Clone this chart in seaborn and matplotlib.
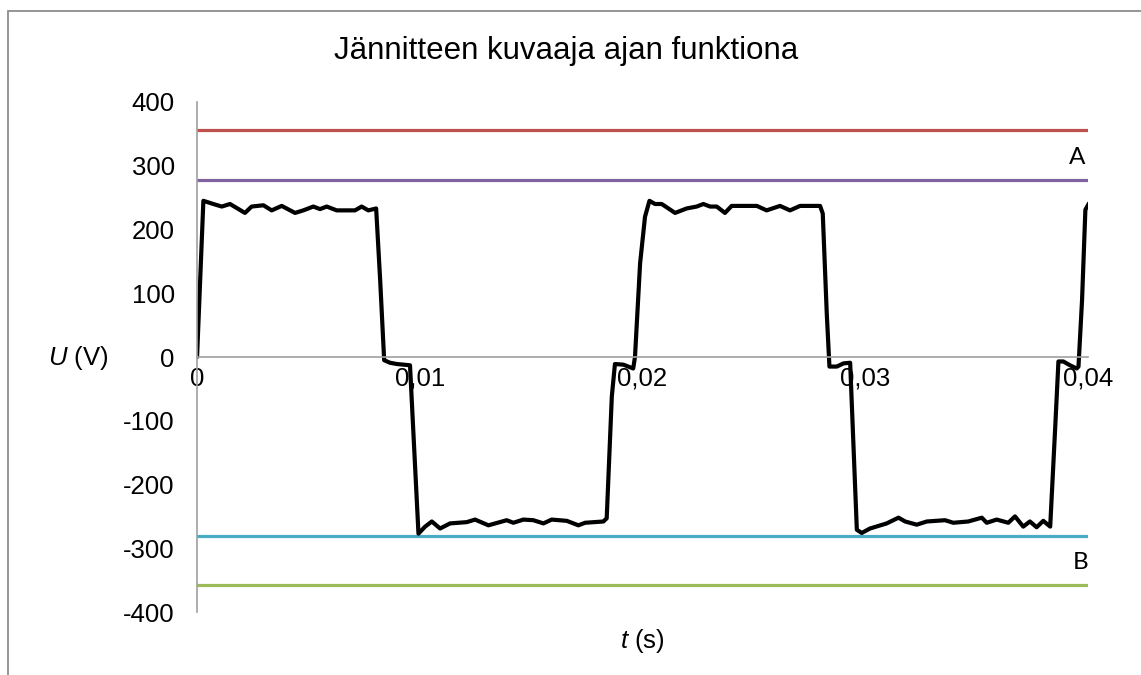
import numpy as np
import pandas as pd
import matplotlib
matplotlib.use("Agg")
import matplotlib.pyplot as plt
import matplotlib.patches as patches
import seaborn as sns

t_s = [0.0, 0.000284, 0.00073, 0.00111, 0.00148, 0.00215, 0.00245, 0.00298, 0.00335,
       0.0038, 0.0044, 0.00477, 0.00522, 0.00552, 0.00582, 0.00627, 0.00709, 0.00739,
       0.00769, 0.00804, 0.00822, 0.0084, 0.00866, 0.00897, 0.00956, 0.00994, 0.01024,
       0.01054, 0.01091, 0.01136, 0.01211, 0.01248, 0.01308, 0.0139, 0.0142, 0.01465,
       0.0151, 0.01555, 0.01592, 0.0166, 0.01712, 0.01742, 0.01824, 0.01839, 0.01862,
       0.01876, 0.01914, 0.01958, 0.01966, 0.01989, 0.02011, 0.02031, 0.02056, 0.02086,
       0.02146, 0.02198, 0.02243, 0.02273, 0.02303, 0.02333, 0.0237, 0.0240, 0.02513,
       0.02557, 0.02617, 0.02662, 0.02707, 0.02797, 0.02809, 0.02827, 0.02839, 0.02872,
       0.02902, 0.02932, 0.02962, 0.02984, 0.03021, 0.03096, 0.03149, 0.03179, 0.03231,
       0.03276, 0.03358, 0.03395, 0.03462, 0.03523, 0.03545, 0.0359, 0.03642, 0.03672,
       0.03709, 0.03739, 0.03769, 0.03799, 0.0383, 0.03852, 0.03867, 0.03889, 0.03919,
       0.03949, 0.03957, 0.03973, 0.03988, 0.04004]
u_v = [0, 245, 240, 236, 240, 226, 236, 238, 230,
       237, 226, 230, 236, 232, 236, 230, 230, 236,
       230, 233, 121, -5, -9, -11, -13, -277, -266,
       -258, -269, -261, -259, -255, -264, -256, -260, -255,
       -256, -261, -255, -257, -264, -260, -258, -253, -62,
       -11, -12, -18, 0, 147, 220, 245, 240, 240,
       226, 233, 236, 240, 236, 236, 226, 237, 237,
       230, 237, 230, 237, 237, 225, 68, -15, -15,
       -10, -9, -271, -276, -269, -261, -252, -258, -263,
       -258, -256, -260, -258, -252, -260, -255, -260, -250,
       -266, -258, -267, -257, -266, -114, -7, -7, -13,
       -18, -15, 89, 231, 241]

# limit lines
limit_names = ["A1", "A2", "B1", "B2"]
limit_values = [356, 278, -280, -358]
limit_colors = ["#C0504D", "#8064A2", "#4BACC6", "#9BBB59"]
t_range = [0.0, 0.04]

x_ticks = [0, 0.01, 0.02, 0.03, 0.04]
x_labels = ["0", "0,01", "0,02", "0,03", "0,04"]
y_ticks = [400, 300, 200, 100, 0, -100, -200, -300, -400]

sns.set_style("white")
plt.rcParams["font.family"] = ["Liberation Sans", "DejaVu Sans"]
plt.rcParams["text.color"] = "black"
plt.rcParams["mathtext.fontset"] = "custom"
plt.rcParams["mathtext.it"] = "Liberation Sans:italic"
plt.rcParams["mathtext.rm"] = "Liberation Sans"

fig = plt.figure(figsize=(11.41, 6.75), dpi=100)
ax = fig.add_axes([0.1727, 0.0933, 0.7809, 0.7556])

for name, val, col in zip(limit_names, limit_values, limit_colors):
    df_l = pd.DataFrame({"t": t_range, "U": [val, val]})
    sns.lineplot(data=df_l, x="t", y="U", color=col, lw=2.3, ax=ax)

df = pd.DataFrame({"t": t_s, "U": u_v})
sns.lineplot(data=df, x="t", y="U", color="black", lw=3.0, ax=ax, sort=False,
             solid_joinstyle="round", solid_capstyle="round")

ax.set_xlim(0, 0.04)
ax.set_ylim(-400, 400)
ax.set_xticks(x_ticks)
ax.set_xticklabels(x_labels)
ax.set_yticks(y_ticks)
ax.set_yticklabels([str(v) for v in y_ticks])
ax.tick_params(axis="both", length=0, labelsize=18.5, colors="black")
ax.tick_params(axis="x", pad=7)
ax.tick_params(axis="y", pad=16)
ax.set_xlabel("")
ax.set_ylabel("")

for s in ["top", "right"]:
    ax.spines[s].set_visible(False)
ax.spines["bottom"].set_position(("data", 0))
ax.spines["bottom"].set_color("#A0A0A0")
ax.spines["left"].set_color("#A0A0A0")
ax.spines["bottom"].set_linewidth(1.2)
ax.spines["left"].set_linewidth(1.2)

ax.text(0.997, 0.892, "A", transform=ax.transAxes, ha="right", va="center",
        fontsize=17.5, family="Lato", color="black")
ax.text(1.0, 0.098, "B", transform=ax.transAxes, ha="right", va="center",
        fontsize=17.5, family="Lato", color="black")

fig.text(566 / 1141, 1 - 51 / 675, "Jännitteen kuvaaja ajan funktiona",
         ha="center", va="center", fontsize=22.5)
fig.text(78 / 1141, 1 - 358 / 675, r"$\mathit{U}$ (V)", ha="center", va="center",
         fontsize=18.5)
fig.text(642 / 1141, 1 - 641 / 675, r"$\mathit{t}$ (s)", ha="center", va="center",
         fontsize=18.5)

border = patches.Rectangle((8 / 1141, -0.2), 1.2, 1 - 11 / 675 + 0.2,
                           transform=fig.transFigure, fill=False,
                           edgecolor="#8C8C8C", lw=1.3)
fig.patches.append(border)

fig.savefig("out.png", dpi=100)
